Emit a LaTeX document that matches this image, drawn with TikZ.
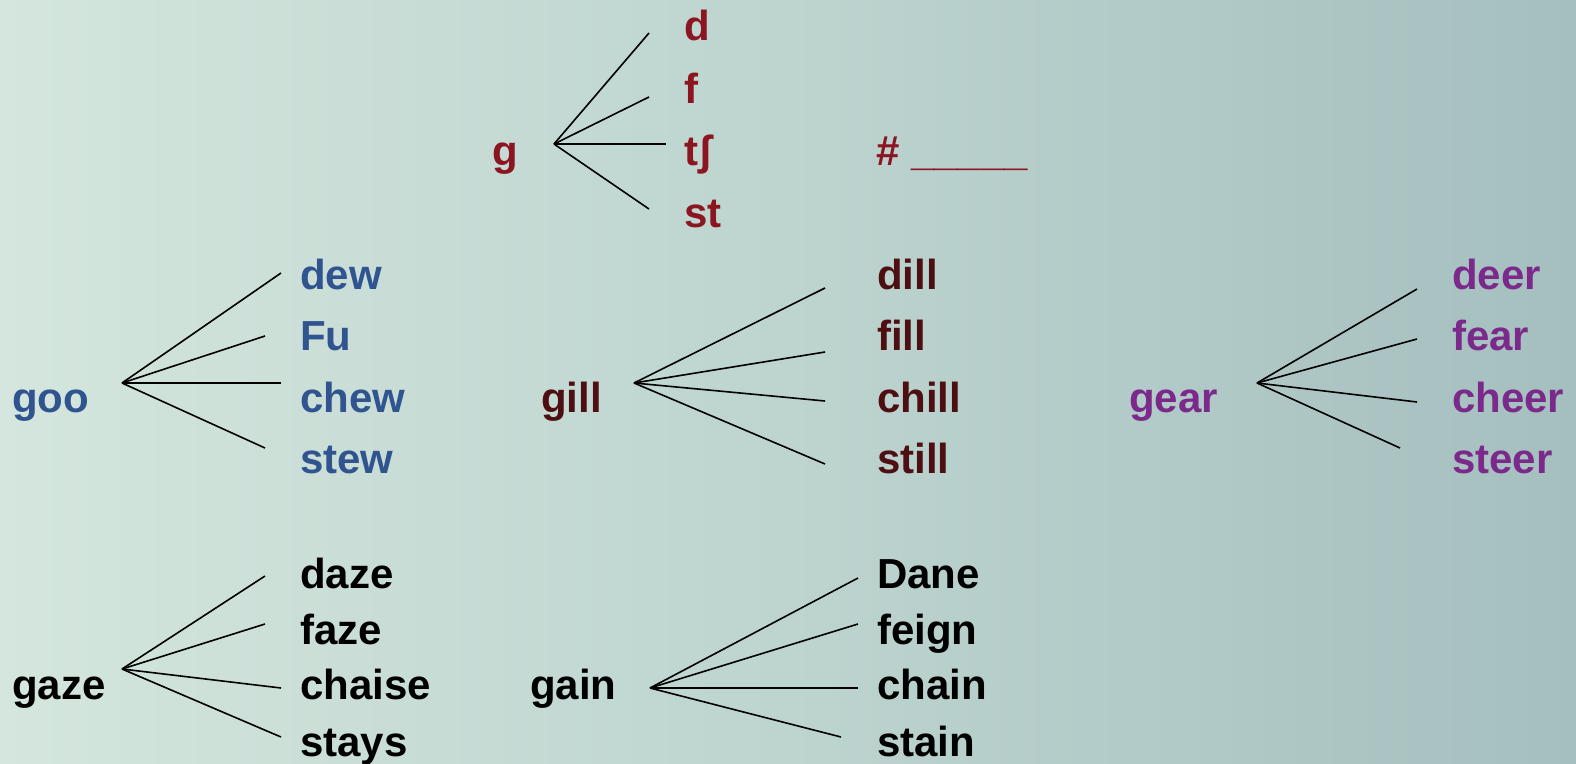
\documentclass[tikz,border=0pt]{standalone}
\usepackage{fontspec}
\setmainfont{Liberation Sans}
\definecolor{bgL}{HTML}{D4E6DD}
\definecolor{bgM}{HTML}{BDD4CF}
\definecolor{bgR}{HTML}{A5BFBF}
\definecolor{cred}{HTML}{8B1520}
\definecolor{cblue}{HTML}{2F5490}
\definecolor{cbrown}{HTML}{4D0F12}
\definecolor{cpurple}{HTML}{7B2A8C}
\begin{document}
\begin{tikzpicture}[x=1pt,y=-1pt,
  wrd/.style={inner sep=0pt,anchor=base west,font=\fontsize{42}{42}\selectfont\bfseries},
  br/.style={line width=1.6pt,black}]
\useasboundingbox (0,0) rectangle (1576,763);
\shade[left color=bgL,right color=bgR,middle color=bgM] (0,0) rectangle (1576,763);
% top tree
\node[wrd,text=cred] (g) at (492,165) {g};
\coordinate (go) at (554,144);
\coordinate (ge1) at (649,33);
\coordinate (ge2) at (649,97);
\coordinate (ge3) at (666,144);
\coordinate (ge4) at (649,209);
\node[wrd,text=cred] (gd) at (684,40) {d};
\node[wrd,text=cred] (gf) at (684,103) {f};
\node[wrd,text=cred] (gt) at (684,165) {tʃ};
\node[wrd,text=cred] (gs) at (684,227) {st};
\node[wrd,text=cred] (hash) at (876,165) {\# \_\_\_\_\_};
\foreach \i in {1,...,4} \draw[br] (go) -- (ge\i);
% goo
\node[wrd,text=cblue] (goo) at (12,412) {goo};
\coordinate (oo) at (122,383);
\coordinate (oe1) at (281,273);
\coordinate (oe2) at (265,336);
\coordinate (oe3) at (281,383);
\coordinate (oe4) at (265,448);
\node[wrd,text=cblue] (dew) at (300,289) {dew};
\node[wrd,text=cblue] (fu) at (300,350) {Fu};
\node[wrd,text=cblue] (chew) at (300,412) {chew};
\node[wrd,text=cblue] (stew) at (300,473) {stew};
\foreach \i in {1,...,4} \draw[br] (oo) -- (oe\i);
% gill
\node[wrd,text=cbrown] (gill) at (541,412) {gill};
\coordinate (io) at (634,383);
\coordinate (ie1) at (825,288);
\coordinate (ie2) at (825,352);
\coordinate (ie3) at (825,401);
\coordinate (ie4) at (825,464);
\node[wrd,text=cbrown] (dill) at (877,289) {dill};
\node[wrd,text=cbrown] (fill) at (877,350) {fill};
\node[wrd,text=cbrown] (chill) at (877,412) {chill};
\node[wrd,text=cbrown] (still) at (877,473) {still};
\foreach \i in {1,...,4} \draw[br] (io) -- (ie\i);
% gear
\node[wrd,text=cpurple] (gear) at (1129,412) {gear};
\coordinate (ao) at (1257,383);
\coordinate (ae1) at (1417,289);
\coordinate (ae2) at (1417,339);
\coordinate (ae3) at (1417,402);
\coordinate (ae4) at (1400,448);
\node[wrd,text=cpurple] (deer) at (1452,289) {deer};
\node[wrd,text=cpurple] (fear) at (1452,350) {fear};
\node[wrd,text=cpurple] (cheer) at (1452,412) {cheer};
\node[wrd,text=cpurple] (steer) at (1452,473) {steer};
\foreach \i in {1,...,4} \draw[br] (ao) -- (ae\i);
% gaze
\node[wrd,text=black] (gaze) at (12,699) {gaze};
\coordinate (zo) at (122,669);
\coordinate (ze1) at (265,576);
\coordinate (ze2) at (265,624);
\coordinate (ze3) at (281,688);
\coordinate (ze4) at (281,737);
\node[wrd,text=black] (daze) at (300,588) {daze};
\node[wrd,text=black] (faze) at (300,644) {faze};
\node[wrd,text=black] (chaise) at (300,699) {chaise};
\node[wrd,text=black] (stays) at (300,756) {stays};
\foreach \i in {1,...,4} \draw[br] (zo) -- (ze\i);
% gain
\node[wrd,text=black] (gain) at (530,699) {gain};
\coordinate (no) at (650,688);
\coordinate (ne1) at (858,578);
\coordinate (ne2) at (858,624);
\coordinate (ne3) at (858,688);
\coordinate (ne4) at (841,737);
\node[wrd,text=black] (dane) at (877,588) {Dane};
\node[wrd,text=black] (feign) at (877,644) {feign};
\node[wrd,text=black] (chain) at (877,699) {chain};
\node[wrd,text=black] (stain) at (877,756) {stain};
\foreach \i in {1,...,4} \draw[br] (no) -- (ne\i);
\end{tikzpicture}
\end{document}
